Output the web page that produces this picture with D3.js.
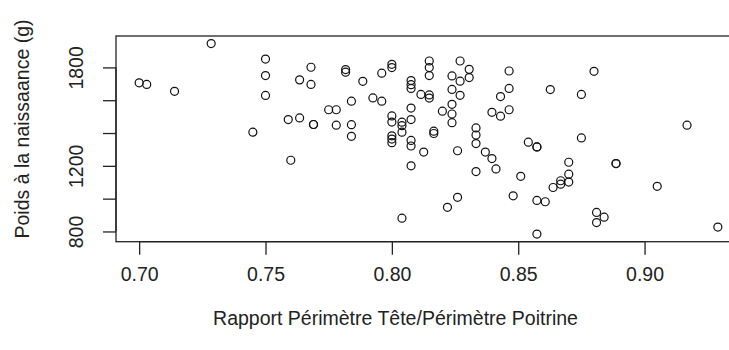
<!DOCTYPE html>
<html>
<head>
<meta charset="utf-8">
<script src="https://cdn.jsdelivr.net/npm/d3@7"></script>
<style>
  html, body { margin: 0; padding: 0; background: #fff; }
  svg { display: block; }
  text { font-family: "Liberation Sans", Arial, sans-serif; fill: #222; }
</style>
</head>
<body>
<svg id="chart" width="729" height="350"></svg>
<script>
// Ratio of head circumference to chest circumference (x) against birth weight in grams (y)
const ratio = [
  0.700, 0.703, 0.714, 0.7285, 0.745, 0.750, 0.750, 0.750, 0.759, 0.760,
  0.7635, 0.7635, 0.768, 0.768, 0.769, 0.769, 0.775, 0.778, 0.778, 0.7817,
  0.7817, 0.784, 0.784, 0.784, 0.7885, 0.7925, 0.796, 0.796, 0.800, 0.800,
  0.800, 0.800, 0.800, 0.800, 0.800, 0.804, 0.804, 0.804, 0.804, 0.8076,
  0.8076, 0.8076, 0.8076, 0.8076, 0.8076, 0.8076, 0.8076, 0.8115, 0.8126, 0.8148,
  0.8148, 0.8148, 0.8148, 0.8148, 0.8166, 0.8166, 0.820, 0.8238, 0.8238, 0.8238,
  0.8238, 0.8238, 0.827, 0.827, 0.827, 0.826, 0.826, 0.822, 0.8306, 0.8306,
  0.8333, 0.8333, 0.8333, 0.8333, 0.837, 0.8396, 0.8412, 0.8396, 0.843, 0.843,
  0.8464, 0.8464, 0.8464, 0.851, 0.848, 0.854, 0.8574, 0.8574, 0.8574, 0.8607,
  0.8574, 0.8627, 0.8638, 0.8668, 0.8668, 0.870, 0.870, 0.870, 0.875, 0.875,
  0.880, 0.881, 0.884, 0.881, 0.8887, 0.8887, 0.905, 0.9168, 0.929
];
const poids = [
  1706, 1696, 1654, 1945, 1405, 1851, 1750, 1629, 1482, 1234,
  1492, 1724, 1801, 1696, 1452, 1452, 1542, 1542, 1448, 1787,
  1771, 1594, 1451, 1380, 1715, 1614, 1594, 1765, 1819, 1799,
  1504, 1467, 1383, 1363, 1341, 1466, 1445, 1405, 881, 1720,
  1695, 1672, 1552, 1482, 1355, 1321, 1200, 1635, 1284, 1839,
  1799, 1750, 1632, 1613, 1411, 1397, 1533, 1748, 1666, 1575,
  1516, 1463, 1839, 1716, 1630, 1292, 1008, 947, 1788, 1738,
  1431, 1388, 1336, 1165, 1284, 1244, 1181, 1526, 1622, 1503,
  1778, 1672, 1542, 1136, 1017, 1344, 1315, 1315, 989, 981,
  784, 1665, 1068, 1109, 1088, 1222, 1149, 1101, 1635, 1370,
  1776, 916, 887, 854, 1214, 1214, 1075, 1448, 827
];

const xTicks = [0.70, 0.75, 0.80, 0.85, 0.90];
const xTickLabels = ["0.70", "0.75", "0.80", "0.85", "0.90"];
const yTicks = [800, 1000, 1200, 1400, 1600, 1800];
const yTickLabels = ["800", "", "1200", "", "", "1800"];

const xTitle = "Rapport Périmètre Tête/Périmètre Poitrine";
const yTitle = "Poids à la naissaance (g)";

const points = ratio.map((r, i) => ({ x: r, y: poids[i] }));

// Plot region (the right side runs past the window edge)
const box = { left: 116, top: 36, right: 741, bottom: 241.7 };

// Data range padded by 4% on each side
function padded(ext) {
  const d = (ext[1] - ext[0]) * 0.04;
  return [ext[0] - d, ext[1] + d];
}

const x = d3.scaleLinear().domain(padded(d3.extent(ratio))).range([box.left, box.right]);
const y = d3.scaleLinear().domain(padded(d3.extent(poids))).range([box.bottom, box.top]);

const svg = d3.select("#chart");
const fontSize = 19.5;

// Points: open circles
svg.append("g")
  .selectAll("circle")
  .data(points)
  .join("circle")
  .attr("cx", d => x(d.x))
  .attr("cy", d => y(d.y))
  .attr("r", 4)
  .attr("fill", "none")
  .attr("stroke", "#111")
  .attr("stroke-width", 1.2);

// Frame around the plot region
svg.append("rect")
  .attr("x", box.left)
  .attr("y", box.top)
  .attr("width", box.right - box.left)
  .attr("height", box.bottom - box.top)
  .attr("fill", "none")
  .attr("stroke", "#222")
  .attr("stroke-width", 1.3);

// Bottom axis
const xAxis = d3.axisBottom(x)
  .tickValues(xTicks)
  .tickFormat((d, i) => xTickLabels[i])
  .tickSize(13)
  .tickPadding(12)
  .tickSizeOuter(0);

const gx = svg.append("g")
  .attr("transform", `translate(0,${box.bottom})`)
  .call(xAxis);
gx.select(".domain")
  .attr("d", `M${x(xTicks[0])},0H${x(xTicks[xTicks.length - 1])}`)
  .attr("stroke", "#222").attr("stroke-width", 1.3);
gx.selectAll(".tick line").attr("stroke", "#222").attr("stroke-width", 1.3);
gx.selectAll(".tick text")
  .attr("font-size", fontSize)
  .attr("font-family", "Liberation Sans, Arial, sans-serif")
  .attr("fill", "#222");

// Left axis (labels are rotated to read upwards)
const yAxis = d3.axisLeft(y)
  .tickValues(yTicks)
  .tickFormat((d, i) => yTickLabels[i])
  .tickSize(13)
  .tickSizeOuter(0);

const gy = svg.append("g")
  .attr("transform", `translate(${box.left},0)`)
  .call(yAxis);
gy.select(".domain")
  .attr("d", `M0,${y(yTicks[0])}V${y(yTicks[yTicks.length - 1])}`)
  .attr("stroke", "#222").attr("stroke-width", 1.3);
gy.selectAll(".tick line").attr("stroke", "#222").attr("stroke-width", 1.3);
gy.selectAll(".tick text")
  .attr("font-size", fontSize)
  .attr("font-family", "Liberation Sans, Arial, sans-serif")
  .attr("fill", "#222")
  .attr("x", null)
  .attr("dy", null)
  .attr("text-anchor", "middle")
  .attr("transform", "translate(-33,0) rotate(-90)");

// Axis titles
svg.append("text")
  .attr("x", 395.5)
  .attr("y", 325)
  .attr("text-anchor", "middle")
  .attr("font-size", fontSize)
  .text(xTitle);

svg.append("text")
  .attr("transform", "translate(29,129) rotate(-90)")
  .attr("text-anchor", "middle")
  .attr("font-size", fontSize)
  .text(yTitle);
</script>
</body>
</html>
